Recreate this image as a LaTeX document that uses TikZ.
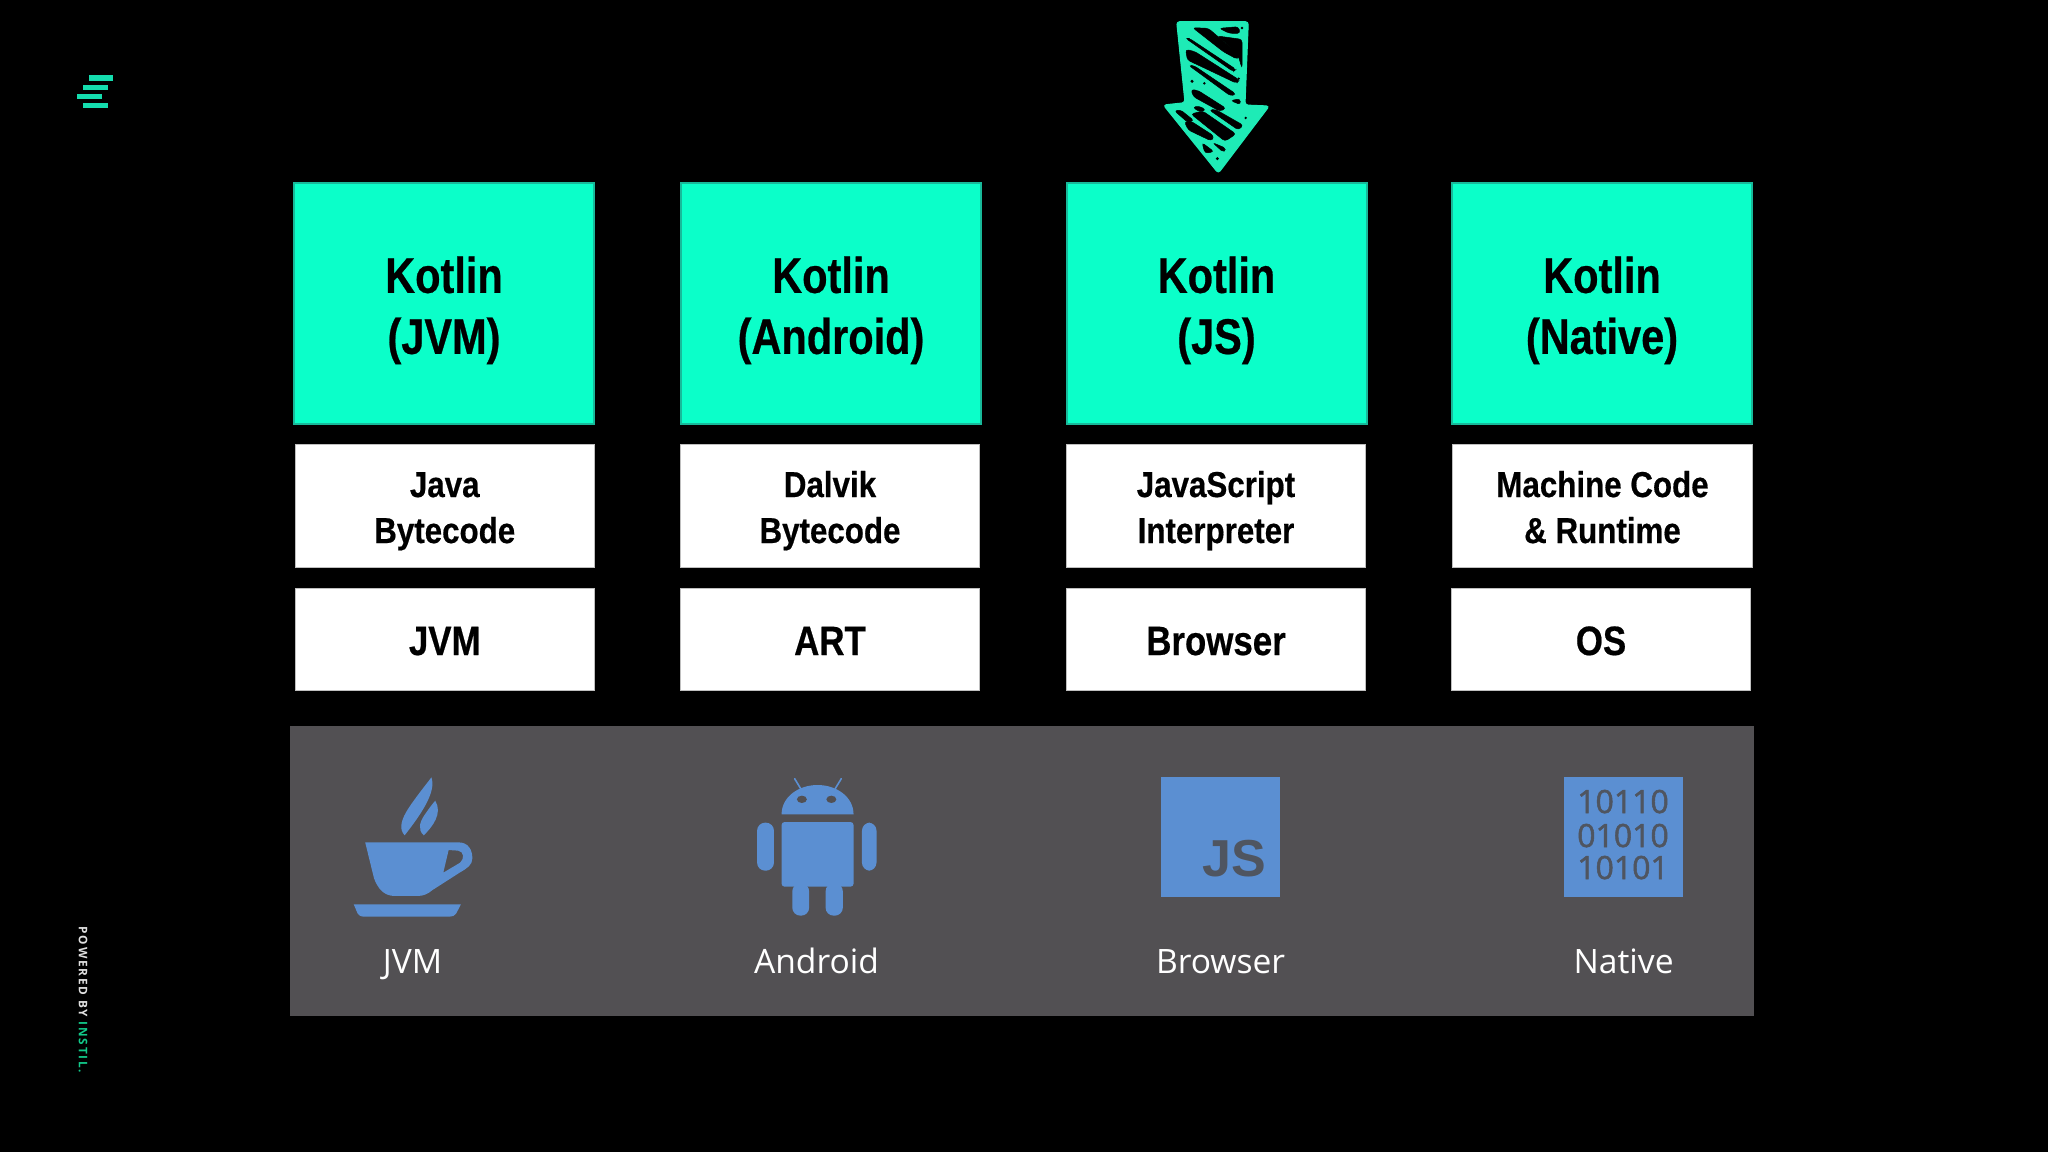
\documentclass[tikz,border=0pt]{standalone}
\usepackage{fontspec}
\setmainfont{Liberation Sans}
\newfontfamily\kfont[FakeStretch=0.83,FakeBold=0.5]{Liberation Sans}
\newfontfamily\cfont[FakeStretch=0.87,FakeBold=0.5]{Liberation Sans}
\newfontfamily\rfont[FakeStretch=0.85,FakeBold=0.5]{Liberation Sans}
\newfontfamily\opensans{Open Sans}
\newfontfamily\binfont[FakeBold=1.6]{Open Sans}
\newfontfamily\poweredf[LetterSpace=15]{Open Sans}
\definecolor{teal}{HTML}{0BFFC9}
\definecolor{tealedge}{HTML}{18B99A}
\definecolor{arrowteal}{HTML}{1EEBB6}
\definecolor{panelgrey}{HTML}{525053}
\definecolor{iconblue}{HTML}{5B8FD2}
\definecolor{icondark}{HTML}{4F5560}
\definecolor{logoteal}{HTML}{14DDAE}
\newcommand{\kst}{\rule[-11pt]{0pt}{61pt}}
\newcommand{\bst}{\rule[-9pt]{0pt}{46pt}}
\newcommand{\rst}{\rule[-4pt]{0pt}{40pt}}
\tikzset{
  tealbox/.style={rectangle,draw=tealedge,line width=2pt,fill=teal,inner sep=0pt,
    minimum width=300pt,minimum height=241pt,align=center,text=black,
    font=\kfont\bfseries\fontsize{50}{61}\selectfont},
  codebox/.style={rectangle,draw=black!25,line width=.6pt,fill=white,inner sep=0pt,
    minimum width=299.5pt,minimum height=122.5pt,align=center,text=black,
    font=\cfont\bfseries\fontsize{36}{46}\selectfont},
  runbox/.style={rectangle,draw=black!25,line width=.6pt,fill=white,inner sep=0pt,
    minimum width=299.5pt,minimum height=102pt,align=center,text=black,
    font=\rfont\bfseries\fontsize{41}{46}\selectfont},
  platlabel/.style={anchor=base,text=white,inner sep=0pt,font=\opensans\fontsize{33.6}{36}\selectfont},
  slit/.style={fill=black,draw=black,line width=.5pt,rounded corners=3pt},
  logobar/.style={fill=logoteal},
  icon/.style={fill=iconblue}
}
\begin{document}
\begin{tikzpicture}[x=1pt,y=-1pt]
\useasboundingbox[fill=black] (0,0) rectangle (2048,1152);

% logo
\begin{scope}[xshift=50pt,yshift=-50pt,x=0.3333pt,y=-0.3333pt]
\fill[logobar] (117,76) rectangle (190,92);
\fill[logobar] (99,104) rectangle (174,121);
\fill[logobar] (82,131) rectangle (156,148);
\fill[logobar] (99,158) rectangle (173,175);
\end{scope}

% powered by
\node[rotate=-90,anchor=center,inner sep=0pt,font=\poweredf\bfseries\fontsize{11.8}{13}\selectfont] (powered) at (83,1000)
  {\textcolor{black!12}{POWERED BY} \textcolor[HTML]{12C98A}{INSTIL.}};

% arrow
\begin{scope}[xshift=1130pt,yshift=0pt,x=0.3333pt,y=-0.3333pt]
\fill[arrowteal,draw=arrowteal,line width=1pt,line join=round,rounded corners=3pt]
  (140,65) -- (355,65) -- (345,315) -- (418,318) -- (265,520) -- (100,315) -- (165,308) -- cycle;
\fill[slit] (188,83) -- (235,85) -- (328,165) -- (322,178) -- (280,155) -- cycle;
\fill[slit] (268,85) -- (325,80) -- (331,100) -- (298,100) -- cycle;
\fill[slit] (262,108) -- (336,118) -- (336,205) -- (325,168) -- (295,135) -- cycle;
\fill[slit] (167,115) -- (178,115) -- (318,208) -- (310,215) -- cycle;
\fill[slit] (167,148) -- (195,155) -- (328,240) -- (320,250) -- (240,212) -- (172,180) -- cycle;
\fill[slit] (176,196) -- (192,197) -- (318,282) -- (302,288) -- cycle;
\fill[slit] (302,302) -- (330,296) -- (332,314) -- cycle;
\fill[slit] (183,268) -- (205,272) -- (288,325) -- (270,334) -- (190,290) -- cycle;
\fill[slit] (133,332) -- (152,330) -- (192,362) -- (173,367) -- cycle;
\fill[slit] (188,322) -- (207,318) -- (228,330) -- (210,336) -- cycle;
\fill[slit] (238,330) -- (256,328) -- (340,376) -- (325,390) -- cycle;
\fill[slit] (183,342) -- (218,333) -- (318,402) -- (285,424) -- cycle;
\fill[slit] (163,365) -- (182,363) -- (252,408) -- (244,423) -- (175,390) -- cycle;
\fill[slit] (216,428) -- (252,455) -- (225,460) -- cycle;
\fill[slit] (248,428) -- (288,445) -- (280,457) -- cycle;
\fill[black] (262,476) circle[radius=5];
\fill[black] (347,354) circle[radius=4];
\fill[black] (336,84) circle[radius=4];
\fill[black] (326,236) circle[radius=4];
\fill[black] (186,244) circle[radius=5];
\fill[black] (223,250) circle[radius=4];
\end{scope}

% Kotlin boxes
\node[tealbox] (k1) at (444,303.85) {\kst Kotlin\\\kst (JVM)};
\node[tealbox] (k2) at (831,303.85) {\kst Kotlin\\\kst (Android)};
\node[tealbox] (k3) at (1216.5,303.85) {\kst Kotlin\\\kst (JS)};
\node[tealbox] (k4) at (1602,303.85) {\kst Kotlin\\\kst (Native)};

% code boxes
\node[codebox] (c1) at (444.75,506) {\bst Java\\\bst Bytecode};
\node[codebox] (c2) at (830,506) {\bst Dalvik\\\bst Bytecode};
\node[codebox] (c3) at (1216,506) {\bst JavaScript\\\bst Interpreter};
\node[codebox] (c4) at (1602.5,506) {\bst Machine Code\\\bst \& Runtime};

% runtime boxes
\node[runbox] (r1) at (444.75,639) {\rst JVM};
\node[runbox] (r2) at (830,639) {\rst ART};
\node[runbox] (r3) at (1216,639) {\rst Browser};
\node[runbox] (r4) at (1601,639) {\rst OS};

% panel
\fill[panelgrey] (290,726) rectangle (1754,1016);

% cup and android icons (coordinates in crop units)
\begin{scope}[xshift=330pt,yshift=-750pt,x=0.3827pt,y=-0.3333pt]
\fill[icon,even odd rule]
  (92,277) -- (335,277) .. controls (362,277) and (372,300) .. (372,325)
  .. controls (372,345) and (358,355) .. (340,367) -- (268,420)
  .. controls (255,432) and (245,438) .. (228,438) -- (170,438)
  .. controls (140,438) and (125,415) .. (115,385) -- cycle
  (310,300) -- (335,302) .. controls (350,305) and (352,325) .. (340,338) -- (296,368) -- cycle;
\fill[icon] (62,463) -- (342,463) -- (330,490) .. controls (326,498) and (320,500) .. (312,500)
  -- (90,500) .. controls (80,500) and (75,496) .. (72,490) -- cycle;
\fill[icon] (265,82) .. controls (278,125) and (240,190) .. (195,256)
  .. controls (178,235) and (188,205) .. (205,175) .. controls (225,140) and (250,105) .. (265,82) -- cycle;
\fill[icon] (275,152) .. controls (295,190) and (268,230) .. (245,256)
  .. controls (228,238) and (235,215) .. (247,195) .. controls (255,182) and (265,165) .. (275,152) -- cycle;
% android
\fill[icon] (1180,193) .. controls (1180,140) and (1225,105) .. (1274,105)
  .. controls (1323,105) and (1368,140) .. (1368,193) -- cycle;
\draw[iconblue,line width=1.6pt,line cap=round] (1214,86) -- (1230,116);
\draw[iconblue,line width=1.6pt,line cap=round] (1336,86) -- (1320,116);
\fill[panelgrey] (1233,148) ellipse[x radius=13,y radius=11];
\fill[panelgrey] (1310,148) ellipse[x radius=13,y radius=11];
\fill[icon,rounded corners=3pt] (1180,216) rectangle (1368,410);
\fill[icon,rounded corners=8pt] (1116,218) rectangle (1160,362);
\fill[icon,rounded corners=8pt] (1390,218) rectangle (1428,362);
\fill[icon,rounded corners=8pt] (1208,400) rectangle (1252,497);
\fill[icon,rounded corners=8pt] (1295,400) rectangle (1340,497);
\end{scope}

% JS and binary icons
\begin{scope}[xshift=1120pt,yshift=-750pt,x=0.3827pt,y=-0.3333pt]
\fill[icon] (106,81) rectangle (417,440);
\fill[icon] (1160,81) rectangle (1471,440);
\end{scope}
\node[anchor=base east,inner sep=0pt,text=icondark,font=\bfseries\fontsize{52}{56}\selectfont] (js) at (1266,876) {JS};
\node[anchor=base,inner sep=0pt,text=icondark,font=\binfont\fontsize{32}{34}\selectfont] (bin1) at (1623,813) {10110};
\node[anchor=base,inner sep=0pt,text=icondark,font=\binfont\fontsize{32}{34}\selectfont] (bin2) at (1623,847) {01010};
\node[anchor=base,inner sep=0pt,text=icondark,font=\binfont\fontsize{32}{34}\selectfont] (bin3) at (1623,879) {10101};

% platform labels
\node[platlabel] (p1) at (412.5,973) {JVM};
\node[platlabel] (p2) at (816.5,973) {Android};
\node[platlabel] (p3) at (1220.6,973) {Browser};
\node[platlabel] (p4) at (1623.6,973) {Native};
\end{tikzpicture}
\end{document}
